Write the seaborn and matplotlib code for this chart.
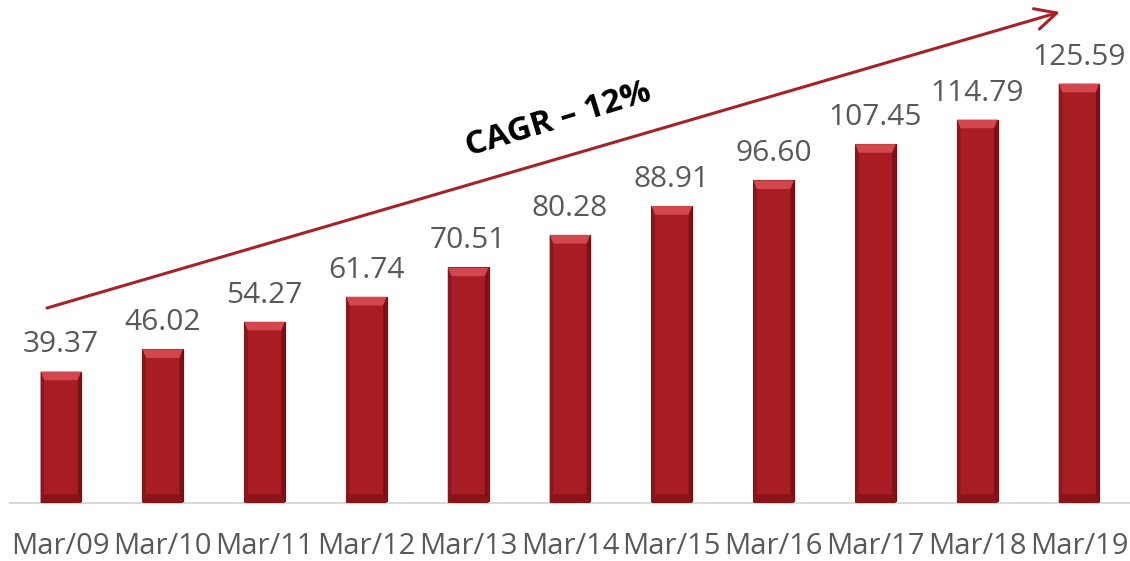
import matplotlib
matplotlib.use('Agg')
import matplotlib.pyplot as plt
import matplotlib.patches as mpatches
import seaborn as sns
import pandas as pd
import numpy as np

periods = ['Mar/09', 'Mar/10', 'Mar/11', 'Mar/12', 'Mar/13', 'Mar/14',
           'Mar/15', 'Mar/16', 'Mar/17', 'Mar/18', 'Mar/19']
values = [39.37, 46.02, 54.27, 61.74, 70.51, 80.28, 88.91, 96.60, 107.45, 114.79, 125.59]
cagr_text = 'CAGR \u2013 12%'

bar_red = '#A81D23'
arrow_red = '#A52228'
label_grey = '#595959'

sns.set_style('white')
plt.rcParams['font.family'] = ['Open Sans', 'DejaVu Sans']

df = pd.DataFrame({'period': periods, 'value': values})

fig = plt.figure(figsize=(11.30, 5.61), dpi=100)
ax = fig.add_axes([10 / 1130, 58 / 561, 1120 / 1130, 501 / 561])

sns.barplot(data=df, x='period', y='value', color=bar_red, width=0.4,
            saturation=1, edgecolor='#6E0E12', linewidth=0.8, ax=ax)
ax.set_ylim(0, 150)
ax.set_xlim(-0.5, len(periods) - 0.5)

# bevel look: light top strip + darker sides, built from the bar patches
bev_y = 2.6
bev_x = 0.035
for p in ax.patches[:len(values)]:
    x0 = p.get_x()
    w = p.get_width()
    h = p.get_height()
    top = mpatches.Polygon([[x0, h], [x0 + w, h], [x0 + w - bev_x, h - bev_y], [x0 + bev_x, h - bev_y]],
                           closed=True, facecolor='#D2474D', edgecolor='none', zorder=3)
    left = mpatches.Polygon([[x0, h], [x0 + bev_x, h - bev_y], [x0 + bev_x, bev_y], [x0, 0]],
                            closed=True, facecolor='#8E151A', edgecolor='none', zorder=3)
    right = mpatches.Polygon([[x0 + w, h], [x0 + w - bev_x, h - bev_y], [x0 + w - bev_x, bev_y], [x0 + w, 0]],
                             closed=True, facecolor='#7C1015', edgecolor='none', zorder=3)
    bottom = mpatches.Polygon([[x0, 0], [x0 + w, 0], [x0 + w - bev_x, bev_y], [x0 + bev_x, bev_y]],
                              closed=True, facecolor='#8A1318', edgecolor='none', zorder=3)
    for poly in (top, left, right, bottom):
        ax.add_patch(poly)
    ax.text(x0 + w / 2, h + 3.6, f'{h:.2f}', ha='center', va='bottom',
            fontsize=21.5, color=label_grey)

# axes styling
sns.despine(ax=ax, left=True, top=True, right=True)
ax.spines['bottom'].set_color('#D9D9D9')
ax.spines['bottom'].set_linewidth(1.5)
ax.set_yticks([])
ax.set_xlabel('')
ax.set_ylabel('')
ax.set_xticks(np.arange(-0.5, len(periods)), minor=True)
ax.tick_params(axis='x', which='minor', length=11, width=1.5, color='#D9D9D9', direction='out')
ax.tick_params(axis='x', which='major', length=0, pad=21, labelsize=21, labelcolor=label_grey)

# growth arrow and CAGR label
ax.annotate('', xy=(1050 / 1120, 1 - 10 / 501), xytext=(37 / 1120, 1 - 306 / 501),
            xycoords='axes fraction', textcoords='axes fraction',
            arrowprops=dict(arrowstyle='->', color=arrow_red, lw=2.2,
                            mutation_scale=38, shrinkA=0, shrinkB=0))
ax.text(548 / 1120, 1 - 118 / 501, cagr_text, transform=ax.transAxes,
        rotation=17, ha='center', va='center', fontsize=24, fontweight='bold',
        color='black')

fig.savefig('out.png', dpi=100)
